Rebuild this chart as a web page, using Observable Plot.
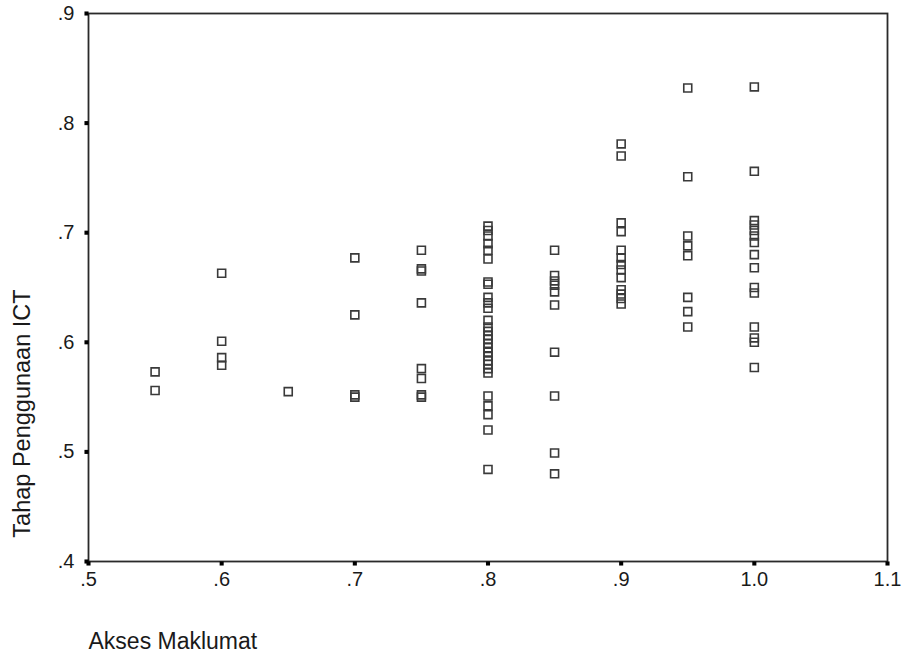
<!DOCTYPE html>
<html><head><meta charset="utf-8">
<script src="https://cdn.jsdelivr.net/npm/d3@7"></script>
<script src="https://cdn.jsdelivr.net/npm/@observablehq/plot@0.6"></script>
<style>
body{margin:0;background:#fff} svg{display:block}
</style>
</head><body><div id="chart"></div>
<script>
// Akses Maklumat (x) columns and Tahap Penggunaan ICT (y) values per column
const aksesLevels = [0.55, 0.60, 0.65, 0.70, 0.75, 0.80, 0.85, 0.90, 0.95, 1.00];
const tahap055 = [0.573, 0.556];
const tahap060 = [0.663, 0.601, 0.586, 0.579];
const tahap065 = [0.555];
const tahap070 = [0.677, 0.625, 0.552, 0.550];
const tahap075 = [0.684, 0.667, 0.665, 0.636, 0.576, 0.567, 0.552, 0.550];
const tahap080 = [0.706, 0.702, 0.697, 0.690, 0.684, 0.676, 0.655, 0.653, 0.641, 0.636, 0.631,
  0.620, 0.614, 0.610, 0.606, 0.603, 0.599, 0.595, 0.591, 0.587, 0.583, 0.580, 0.576, 0.572,
  0.551, 0.542, 0.534, 0.520, 0.484];
const tahap085 = [0.684, 0.661, 0.656, 0.652, 0.646, 0.634, 0.591, 0.551, 0.499, 0.480];
const tahap090 = [0.781, 0.770, 0.709, 0.701, 0.684, 0.677, 0.671, 0.666, 0.659, 0.648, 0.644, 0.640, 0.635];
const tahap095 = [0.832, 0.751, 0.697, 0.688, 0.679, 0.641, 0.628, 0.614];
const tahap100 = [0.833, 0.756, 0.711, 0.707, 0.702, 0.697, 0.691, 0.680, 0.668, 0.650, 0.645, 0.614, 0.604, 0.600, 0.577];
const tahapColumns = [tahap055, tahap060, tahap065, tahap070, tahap075, tahap080, tahap085, tahap090, tahap095, tahap100];

const xTicks = [0.5, 0.6, 0.7, 0.8, 0.9, 1.0, 1.1];
const yTicks = [0.4, 0.5, 0.6, 0.7, 0.8, 0.9];
const xTitle = "Akses Maklumat";
const yTitle = "Tahap Penggunaan ICT";

const data = aksesLevels.flatMap((a, i) => tahapColumns[i].map(t => ({akses: a, tahap: t})));
const fmt = d => d.toFixed(1).replace(/^0/, "");

const chart = Plot.plot({
  width: 905, height: 659,
  marginLeft: 88, marginRight: 18, marginTop: 13, marginBottom: 98,
  style: {fontFamily: "'Liberation Sans', Arial, sans-serif", fontSize: "20px", color: "#1a1a1a", background: "#fff"},
  x: {domain: [0.5, 1.1]},
  y: {domain: [0.4, 0.9]},
  marks: [
    Plot.frame({stroke: "#2a2a2a", strokeWidth: 1.8}),
    Plot.axisX({ticks: xTicks, tickFormat: fmt, tickSize: 0, tickPadding: 10, label: null, fontSize: 20}),
    Plot.axisY({ticks: yTicks, tickFormat: fmt, tickSize: 0, tickPadding: 14, label: null, fontSize: 20}),
    // square tick nubs
    Plot.dot(xTicks, {x: d => d, frameAnchor: "bottom", dy: 2, symbol: "square", r: 2.3, fill: "#000", stroke: "none"}),
    Plot.dot(yTicks, {y: d => d, frameAnchor: "left", dx: -2, symbol: "square", r: 2.3, fill: "#000", stroke: "none"}),
    Plot.dot(data, {x: "akses", y: "tahap", symbol: "square", r: 4.5, stroke: "#3a3a3a", strokeWidth: 1.6, fill: "none"}),
    Plot.text([xTitle], {frameAnchor: "bottom-left", textAnchor: "start", dy: 87, fontSize: 23, fill: "#1a1a1a"}),
    Plot.text([yTitle], {frameAnchor: "left", rotate: -90, textAnchor: "middle", dx: -66, dy: 126, fontSize: 23.5, fill: "#1a1a1a"})
  ]
});
document.getElementById("chart").appendChild(chart);
</script>
</body></html>
